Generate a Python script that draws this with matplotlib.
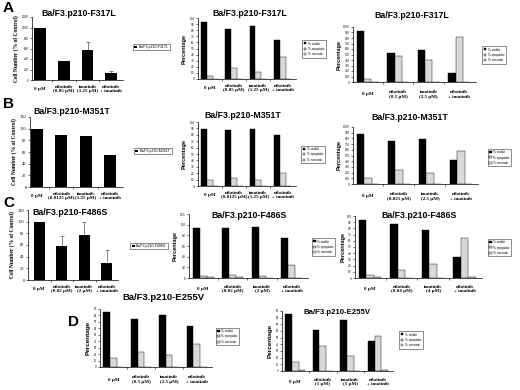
import matplotlib
matplotlib.use("Agg")
import matplotlib.pyplot as plt
import numpy as np

W, H = 520, 390
fig = plt.figure(figsize=(W / 100, H / 100), dpi=100)

SERIF = ["Liberation Serif", "DejaVu Serif"]
SANS = ["Liberation Sans", "DejaVu Sans"]

series_names = ["% viable", "% apoptotic", "% necrotic"]
series_colors = ["#000000", "#d9d9d9", "#f4f4f4"]

# ---------------- data ----------------
A1_title = "Ba/F3.p210-F317L"
A1_labels = ["0 µM", "nilotinib\n(0.05 µM)", "imatinib\n(1.25 µM)", "nilotinib\n+ imatinib"]
A1_vals = [100, 37, 57, 13]
A1_err = [0, 0, 15, 5]

A2_title = "Ba/F3.p210-F317L"
A2_labels = ["0 µM", "nilotinib\n(0.05 µM)", "imatinib\n(1.25 µM)", "nilotinib\n+ imatinib"]
A2_viable = [93, 82, 87, 64]
A2_apopt = [5, 18, 12, 36]
A2_necro = [0.5, 0.5, 0.5, 0.5]

A3_title = "Ba/F3.p210-F317L"
A3_labels = ["0 µM", "nilotinib\n(0.1 µM)", "imatinib\n(2.5 µM)", "nilotinib\n+ imatinib"]
A3_viable = [93, 53, 59, 17]
A3_apopt = [6, 47, 40, 82]
A3_necro = [0.5, 0.5, 0.5, 0.5]

B1_title = "Ba/F3.p210-M351T"
B1_labels = ["0 µM", "nilotinib\n(0.0125 µM)", "imatinib\n(1.25 µM)", "nilotinib\n+ imatinib"]
B1_vals = [100, 89, 87, 55]

B2_title = "Ba/F3.p210-M351T"
B2_labels = ["0 µM", "nilotinib\n(0.0125 µM)", "imatinib\n(1.25 µM)", "nilotinib\n+ imatinib"]
B2_viable = [89, 87, 89, 79]
B2_apopt = [10, 13, 10, 20]
B2_necro = [0.5, 0.5, 0.5, 0.5]

B3_title = "Ba/F3.p210-M351T"
B3_labels = ["0 µM", "nilotinib\n(0.025 µM)", "imatinib\n(2.5 µM)", "nilotinib\n+ imatinib"]
B3_viable = [88, 75, 79, 42]
B3_apopt = [11, 25, 20, 58]
B3_necro = [0.5, 0.5, 0.5, 0.5]

C1_title = "Ba/F3.p210-F486S"
C1_labels = ["0 µM", "nilotinib\n(0.02 µM)", "imatinib\n(2 µM)", "nilotinib\n+ imatinib"]
C1_vals = [100, 58, 78, 30]
C1_err = [0, 17, 21, 21]

C2_title = "Ba/F3.p210-F486S"
C2_labels = ["0 µM", "nilotinib\n(0.02 µM)", "imatinib\n(2 µM)", "nilotinib\n+ imatinib"]
C2_viable = [94, 93, 95, 75]
C2_apopt = [4, 6, 4, 24]
C2_necro = [2, 1, 0.5, 0.5]

C3_title = "Ba/F3.p210-F486S"
C3_labels = ["0 µM", "nilotinib\n(0.04 µM)", "imatinib\n(4 µM)", "nilotinib\n+ imatinib"]
C3_viable = [93, 87, 77, 34]
C3_apopt = [5, 13, 23, 65]
C3_necro = [2, 0.5, 0.5, 2]

D1_title = "Ba/F3.p210-E255V"
D1_labels = ["0 µM", "nilotinib\n(0.5 µM)", "imatinib\n(2.5 µM)", "nilotinib\n+ imatinib"]
D1_viable = [85, 74, 80, 63]
D1_apopt = [14, 24, 19, 35]
D1_necro = [0.5, 0.5, 0.5, 0.5]

D2_title = "Ba/F3.p210-E255V"
D2_labels = ["0 µM", "nilotinib\n(1 µM)", "imatinib\n(5 µM)", "nilotinib\n+ imatinib"]
D2_viable = [85, 62, 77, 45]
D2_apopt = [14, 37, 22, 53]
D2_necro = [1, 0.5, 0.5, 2]


# ---------------- helpers ----------------
def px_axes(x0, y0, x1, y1):
    return fig.add_axes([x0 / W, 1 - y1 / H, (x1 - x0) / W, (y1 - y0) / H])


def style(ax, labels, ymax, ystep, yfmt, ytick_size, xlab_size, xpad, xlim):
    for s in ["top", "right"]:
        ax.spines[s].set_visible(False)
    for s in ["left", "bottom"]:
        ax.spines[s].set_linewidth(0.5)
    x = np.arange(len(labels))
    ax.set_xticks(x)
    ax.set_xticklabels(labels, fontsize=xlab_size, family=SERIF, fontweight="bold",
                       linespacing=1.25)
    for t in ax.get_xticklabels():
        t.set_verticalalignment("center")
    ax.tick_params(axis="x", length=0, pad=xpad)
    ax.set_xticks(np.arange(len(labels) - 1) + 0.5, minor=True)
    ax.tick_params(axis="x", which="minor", length=1.5, width=0.4)
    ticks = np.arange(0, ymax + 0.01, ystep)
    ax.set_yticks(ticks)
    ax.set_yticklabels([yfmt(v) for v in ticks], fontsize=ytick_size, family=SERIF)
    ax.tick_params(axis="y", length=1.5, width=0.4, pad=1)
    ax.set_ylim(0, ymax)
    ax.set_xlim(*xlim)


def add_legend(ax, leg_rect, size):
    lx0, ly0, lx1, ly1 = leg_rect
    leg = ax.legend(loc="center", bbox_to_anchor=((lx0 + lx1) / 2 / W, 1 - (ly0 + ly1) / 2 / H),
                    bbox_transform=fig.transFigure, frameon=True,
                    fancybox=False, handlelength=0.8, handleheight=0.6,
                    handletextpad=0.4, borderpad=0.4, labelspacing=0.45,
                    prop={"family": SANS, "size": size})
    leg.get_frame().set_edgecolor("black")
    leg.get_frame().set_linewidth(0.4)


def single_panel(rect, title, tpos, tsize, labels, vals, err, ymax, ystep, yfmt,
                 ytick_size, leg_rect, xlim):
    ax = px_axes(*rect)
    x = np.arange(len(vals))
    ax.bar(x, vals, width=0.5, color="black", zorder=2, label=title)
    if err is not None:
        up = np.array(err)
        ax.errorbar(x, vals, yerr=[np.zeros_like(up), up], fmt="none", ecolor="#555555",
                    elinewidth=0.5, capsize=1.5, capthick=0.5, zorder=1)
    style(ax, labels, ymax, ystep, yfmt, ytick_size, 3.6, 6.5, xlim)
    ax.set_ylabel("Cell Number (% of Control)", family=SERIF, fontweight="bold",
                  fontsize=4.0, labelpad=2)
    fig.text(tpos[0] / W, 1 - tpos[1] / H, title, ha="center", va="center",
             family=SANS, fontweight="bold", fontsize=tsize)
    add_legend(ax, leg_rect, 2.6)
    return ax


def triple_panel(rect, title, tpos, tsize, labels, viable, apopt, necro, ymax, ystep, yfmt,
                 ytick_size, leg_rect, xlim, ylabel_size=4.0, xpad=6.5, xlab_size=3.6,
                 ylabelpad=2):
    ax = px_axes(*rect)
    x = np.arange(len(viable))
    w = 0.24
    for i, (vals, nm, c) in enumerate(zip([viable, apopt, necro], series_names, series_colors)):
        ax.bar(x + (i - 1) * w, vals, width=w, color=c, edgecolor="black",
               linewidth=0.3, label=nm, zorder=2)
    style(ax, labels, ymax, ystep, yfmt, ytick_size, xlab_size, xpad, xlim)
    ax.set_ylabel("Percentage", family=SANS, fontweight="bold", fontsize=ylabel_size,
                  labelpad=ylabelpad)
    fig.text(tpos[0] / W, 1 - tpos[1] / H, title, ha="center", va="center",
             family=SANS, fontweight="bold", fontsize=tsize)
    add_legend(ax, leg_rect, 2.3)
    return ax


plain = lambda v: f"{v:g}"
x10 = lambda v: f"{v * 10:g}"
TRI_XLIM = (-0.48, 3.55)

# Row A
single_panel((32, 17, 123, 80), A1_title, (79, 13), 6.3, A1_labels, A1_vals, A1_err,
             120, 20, x10, 2.4, (127, 44, 176, 50), (-0.35, 3.5))
triple_panel((198, 18, 296, 79), A2_title, (250, 13), 6.3, A2_labels, A2_viable, A2_apopt,
             A2_necro, 100, 10, plain, 2.4, (300, 42, 328, 56), TRI_XLIM)
triple_panel((353, 27, 476, 82), A3_title, (412, 15), 6.3, A3_labels, A3_viable, A3_apopt,
             A3_necro, 100, 10, x10, 2.4, (480, 48, 508, 62), TRI_XLIM, xpad=9,
             ylabelpad=1)

# Row B
single_panel((30, 117, 123, 187), B1_title, (72, 112), 6.3, B1_labels, B1_vals, None,
             120, 20, plain, 3.2, (128, 148, 178, 154), (-0.3, 3.55))
triple_panel((198, 122, 296, 186), B2_title, (243, 115), 6.3, B2_labels, B2_viable, B2_apopt,
             B2_necro, 100, 10, plain, 2.4, (298, 147, 328, 162), TRI_XLIM)
triple_panel((353, 127, 478, 184), B3_title, (410, 118), 6.3, B3_labels, B3_viable, B3_apopt,
             B3_necro, 100, 10, x10, 2.4, (487, 150, 512, 165), TRI_XLIM, xpad=9,
             ylabelpad=1)

# Row C
single_panel((28, 210, 118, 280), C1_title, (70, 213), 6.3, C1_labels, C1_vals, C1_err,
             120, 20, plain, 3.2, (125, 243, 173, 249), (-0.5, 3.5))
triple_panel((189, 214, 308, 278), C2_title, (249, 215), 6.3, C2_labels, C2_viable, C2_apopt,
             C2_necro, 120, 20, plain, 2.6, (311, 240, 336, 254), TRI_XLIM, xpad=8)
triple_panel((355, 216, 482, 278), C3_title, (419, 215), 6.3, C3_labels, C3_viable, C3_apopt,
             C3_necro, 100, 10, plain, 2.4, (487, 240, 512, 255), TRI_XLIM, xpad=8,
             ylabelpad=1)

# Row D
triple_panel((100, 309, 212, 367), D1_title, (163, 297), 6.8, D1_labels, D1_viable, D1_apopt,
             D1_necro, 90, 10, plain, 2.2, (218, 330, 237, 343), TRI_XLIM,
             ylabel_size=4.6, xpad=9)
triple_panel((282, 311, 393, 371), D2_title, (337, 313), 5.6, D2_labels, D2_viable, D2_apopt,
             D2_necro, 90, 10, plain, 2.2, (397, 330, 425, 350), TRI_XLIM,
             ylabel_size=4.6, xpad=8)

# Panel letters
for letter, (lx, ly) in zip("ABCD", [(3, 8), (3, 104), (3, 203), (68, 322)]):
    fig.text(lx / W, 1 - ly / H, letter, ha="left", va="center", family=SANS,
             fontweight="bold", fontsize=11)

fig.savefig("out.png", dpi=100)
